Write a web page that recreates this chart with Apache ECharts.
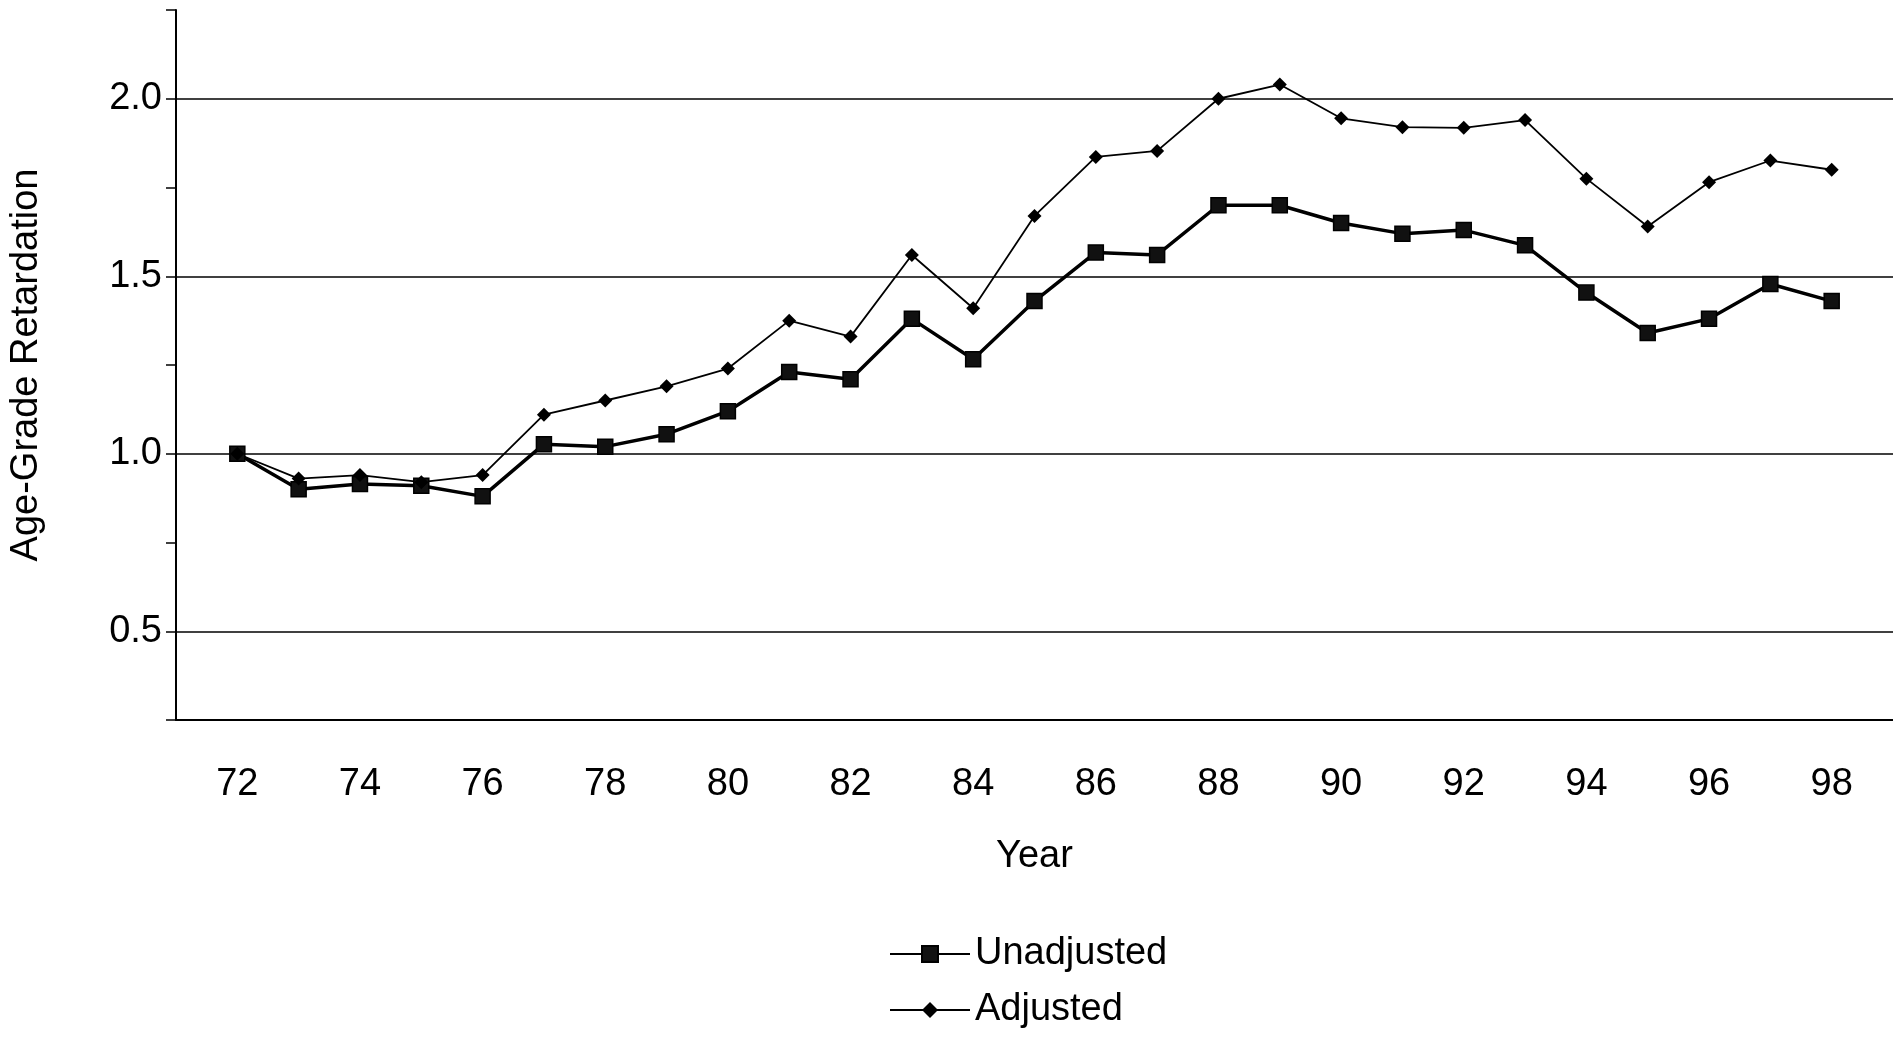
<!DOCTYPE html>
<html><head><meta charset="utf-8">
<script src="https://cdn.jsdelivr.net/npm/echarts@6/dist/echarts.min.js"></script>
<style>html,body{margin:0;padding:0;background:#fff}#c{width:1893px;height:1039px}</style>
</head><body><div id="c"></div>
<script>
var years = [72,73,74,75,76,77,78,79,80,81,82,83,84,85,86,87,88,89,90,91,92,93,94,95,96,97,98];
var unadjusted = [1.00,0.90,0.915,0.91,0.88,1.027,1.02,1.055,1.12,1.23,1.21,1.38,1.266,1.43,1.567,1.56,1.70,1.70,1.65,1.62,1.63,1.587,1.454,1.34,1.38,1.478,1.43];
var adjusted = [1.00,0.93,0.94,0.92,0.94,1.11,1.15,1.19,1.24,1.375,1.33,1.56,1.41,1.67,1.836,1.853,2.00,2.04,1.945,1.92,1.918,1.94,1.775,1.64,1.765,1.826,1.80];
var xLabels = [72,74,76,78,80,82,84,86,88,90,92,94,96,98];

var chart = echarts.init(document.getElementById('c'));
var font = 'Liberation Sans, Arial, sans-serif';
function pairs(v) { return years.map(function (y, i) { return [y, v[i]]; }); }
chart.setOption({
    animation: false,
    textStyle: { fontFamily: font, color: '#000' },
    grid: { left: 176, right: 0, top: 10, bottom: 319, containLabel: false },
    xAxis: {
        type: 'value', min: 71, max: 99,
        name: 'Year', nameLocation: 'middle', nameGap: 118,
        nameTextStyle: { fontSize: 38, color: '#000', fontFamily: font },
        axisLine: { show: true, lineStyle: { color: '#000', width: 2 } },
        axisTick: { show: false },
        splitLine: { show: false },
        axisLabel: { customValues: xLabels, fontSize: 38, color: '#000', margin: 46, fontFamily: font }
    },
    yAxis: {
        type: 'value', min: 0.25, max: 2.25, interval: 0.25,
        name: 'Age-Grade Retardation', nameLocation: 'middle', nameGap: 130,
        nameTextStyle: { fontSize: 38, color: '#000', fontFamily: font },
        axisLine: { show: true, lineStyle: { color: '#000', width: 2 } },
        axisTick: { show: true, length: 10, lineStyle: { color: '#000', width: 1.5 } },
        axisLabel: {
            fontSize: 38, color: '#000', margin: 14, fontFamily: font,
            formatter: function (v) {
                var r = Math.round(v * 100);
                return (r % 50 === 0 && r >= 50 && r <= 200) ? (v).toFixed(1) : '';
            }
        },
        splitLine: { show: true, lineStyle: { color: ['rgba(0,0,0,0)', '#000'], width: 1.5 } }
    },
    legend: {
        orient: 'vertical', left: 884, top: 930, itemGap: 18,
        itemWidth: 80, itemHeight: 20,
        textStyle: { fontSize: 38, color: '#000', fontFamily: font },
        data: ['Unadjusted', 'Adjusted']
    },
    series: [{
        name: 'Unadjusted', type: 'line', data: pairs(unadjusted),
        symbol: 'rect', symbolSize: 15,
        lineStyle: { color: '#000', width: 3.5 },
        itemStyle: { color: '#111', borderColor: '#000', borderWidth: 1.5 }
    }, {
        name: 'Adjusted', type: 'line', data: pairs(adjusted),
        symbol: 'diamond', symbolSize: 14,
        lineStyle: { color: '#000', width: 1.8 },
        itemStyle: { color: '#000' }
    }]
});
</script></body></html>
